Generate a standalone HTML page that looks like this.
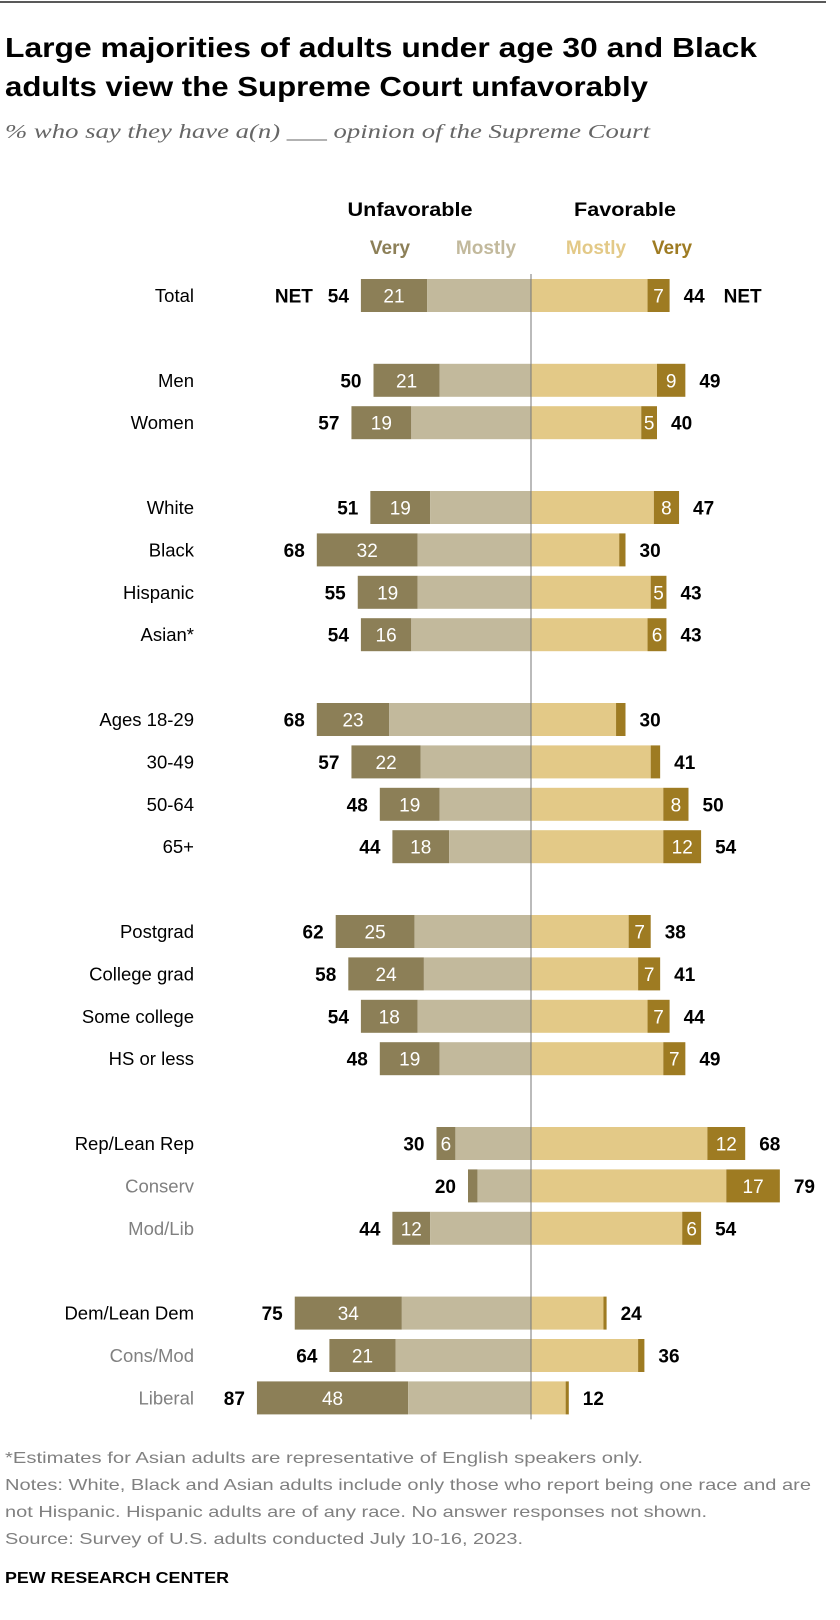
<!DOCTYPE html>
<html><head><meta charset="utf-8"><style>
body{margin:0;background:#fff}
svg{display:block;font-family:"Liberation Sans",sans-serif}
</style></head><body>
<svg id="chart" width="840" height="1620" viewBox="0 0 840 1620" xmlns="http://www.w3.org/2000/svg">
<line x1="0" y1="2" x2="826" y2="2" stroke="#222" stroke-width="1.5"/>
<text x="5" y="57" font-size="28" font-weight="bold" fill="#000" textLength="752" lengthAdjust="spacingAndGlyphs">Large majorities of adults under age 30 and Black</text>
<text x="5" y="96" font-size="28" font-weight="bold" fill="#000" textLength="643" lengthAdjust="spacingAndGlyphs">adults view the Supreme Court unfavorably</text>
<text x="5" y="138" font-size="20" font-style="italic" fill="#666" font-family="Liberation Serif, serif" textLength="645" lengthAdjust="spacingAndGlyphs">% who say they have a(n) ___ opinion of the Supreme Court</text>
<text x="410" y="216" font-size="19" font-weight="bold" text-anchor="middle" textLength="125" lengthAdjust="spacingAndGlyphs">Unfavorable</text>
<text x="625" y="216" font-size="19" font-weight="bold" text-anchor="middle" textLength="102" lengthAdjust="spacingAndGlyphs">Favorable</text>
<text x="390" y="254" font-size="19" font-weight="bold" fill="#8c7f57" text-anchor="middle">Very</text>
<text x="486" y="254" font-size="19" font-weight="bold" fill="#c2b99c" text-anchor="middle">Mostly</text>
<text x="596" y="254" font-size="19" font-weight="bold" fill="#e3c987" text-anchor="middle">Mostly</text>
<text x="672" y="254" font-size="19" font-weight="bold" fill="#9e7b22" text-anchor="middle">Very</text>
<g id="bars"></g>
<text x="5" y="1463" font-size="16" fill="#808080" textLength="638" lengthAdjust="spacingAndGlyphs">*Estimates for Asian adults are representative of English speakers only.</text>
<text x="5" y="1490" font-size="16" fill="#808080" textLength="806" lengthAdjust="spacingAndGlyphs">Notes: White, Black and Asian adults include only those who report being one race and are</text>
<text x="5" y="1517" font-size="16" fill="#808080" textLength="702" lengthAdjust="spacingAndGlyphs">not Hispanic. Hispanic adults are of any race. No answer responses not shown.</text>
<text x="5" y="1544" font-size="16" fill="#808080" textLength="518" lengthAdjust="spacingAndGlyphs">Source: Survey of U.S. adults conducted July 10-16, 2023.</text>
<text x="5" y="1583" font-size="16" font-weight="bold" fill="#000" textLength="224" lengthAdjust="spacingAndGlyphs">PEW RESEARCH CENTER</text>
</svg>
<script>
const categories = ["Total","Men","Women","White","Black","Hispanic","Asian*","Ages 18-29","30-49","50-64","65+","Postgrad","College grad","Some college","HS or less","Rep/Lean Rep","Conserv","Mod/Lib","Dem/Lean Dem","Cons/Mod","Liberal"];
const rowSlots = [0,2,3,5,6,7,8,10,11,12,13,15,16,17,18,20,21,22,24,25,26];
const subCategory = [0,0,0,0,0,0,0,0,0,0,0,0,0,0,0,0,1,1,0,1,1];
const unfavNet = [54,50,57,51,68,55,54,68,57,48,44,62,58,54,48,30,20,44,75,64,87];
const unfavVery = [21,21,19,19,32,19,16,23,22,19,18,25,24,18,19,6,3,12,34,21,48];
const favNet = [44,49,40,47,30,43,43,30,41,50,54,38,41,44,49,68,79,54,24,36,12];
const favVery = [7,9,5,8,2,5,6,3,3,8,12,7,7,7,7,12,17,6,1,2,1];

const NS="http://www.w3.org/2000/svg";
const g=document.getElementById('bars');
const cx=531, ppt=3.15, y0=295.5, step=42.4, bh=33;
const xs=v=>v*ppt;
const ys=s=>y0+s*step;
function mk(tag,attrs){const e=document.createElementNS(NS,tag);for(const k in attrs)e.setAttribute(k,attrs[k]);g.appendChild(e);return e;}
categories.forEach((c,i)=>{
  const yc=ys(rowSlots[i]), top=yc-bh/2;
  const key=c.toLowerCase().replace(/[^a-z0-9]+/g,'-').replace(/-$/,'');
  const lab=mk('text',{x:194,y:yc+6.5,'font-size':18.5,'text-anchor':'end',fill:subCategory[i]?'#808080':'#000'});
  
  
  lab.textContent=c;
  const uv=unfavVery[i], um=unfavNet[i]-uv, fv=favVery[i], fm=favNet[i]-fv;
  const left=cx-xs(unfavNet[i]);
  const r1=mk('rect',{x:left,y:top,width:xs(uv),height:bh,fill:'#8c7f57'});
  
  
  const r2=mk('rect',{x:left+xs(uv),y:top,width:xs(um),height:bh,fill:'#c2b99c'});
  
  
  const r3=mk('rect',{x:cx,y:top,width:xs(fm),height:bh,fill:'#e3c987'});
  
  
  const r4=mk('rect',{x:cx+xs(fm),y:top,width:xs(fv),height:bh,fill:'#9e7b22'});
  
  
  if(uv>=5){const t=mk('text',{x:left+xs(uv)/2,y:yc+7,'font-size':19,'text-anchor':'middle',fill:'#fff'});
    
    
    t.textContent=uv;}
  if(fv>=5){const t=mk('text',{x:cx+xs(fm)+xs(fv)/2,y:yc+7,'font-size':19,'text-anchor':'middle',fill:'#fff'});
    
    
    t.textContent=fv;}
  const n1=mk('text',{x:left-12,y:yc+7,'font-size':19,'font-weight':'bold','text-anchor':'end'});
  
  
  n1.textContent=unfavNet[i];
  const n2=mk('text',{x:cx+xs(favNet[i])+14,y:yc+7,'font-size':19,'font-weight':'bold'});
  
  
  n2.textContent=favNet[i];
  if(i===0){
    const a=mk('text',{x:left-12-36,y:yc+7,'font-size':19,'font-weight':'bold','text-anchor':'end'});
    
    
    a.textContent='NET';
    const b=mk('text',{x:cx+xs(favNet[i])+14+40,y:yc+7,'font-size':19,'font-weight':'bold'});
    
    
    b.textContent='NET';
  }
});
const ax=mk('line',{x1:cx,y1:274,x2:cx,y2:ys(26)+bh/2+5,stroke:'#777','stroke-width':1});


</script>
</body></html>
